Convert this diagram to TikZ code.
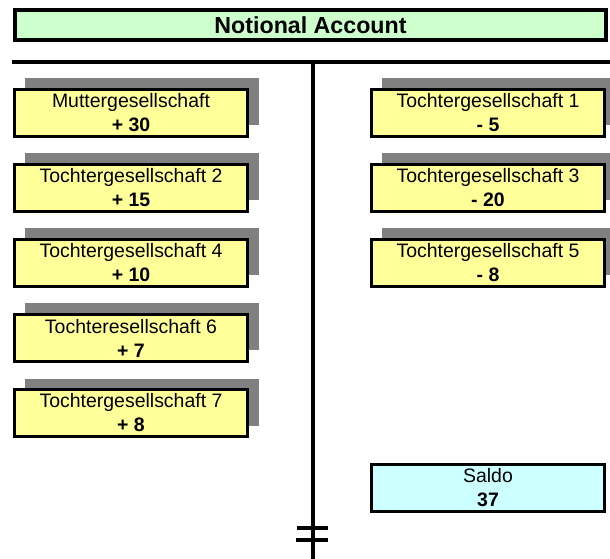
\documentclass[tikz,border=0pt]{standalone}
\usepackage{fontspec}
\setmainfont{Liberation Sans}
\usetikzlibrary{positioning,shadows}

\definecolor{kontogelb}{HTML}{FFFF99}
\definecolor{saldoblau}{HTML}{CCFFFF}
\definecolor{titelgruen}{HTML}{CCFFCC}
\definecolor{schatten}{HTML}{808080}

\begin{document}
\begin{tikzpicture}[x=0.75pt,y=-0.75pt,node distance=21pt,
                kasten/.style={draw,line width=2.4pt,align=center,
                  minimum width=175pt,minimum height=35.25pt,inner sep=0pt,outer sep=0pt,
                  font=\fontsize{14.6}{18}\selectfont},
                konto/.style={kasten,fill=kontogelb,
                  general shadow={fill=schatten,shadow xshift=8.25pt,shadow yshift=8.25pt}},
                saldo/.style={kasten,fill=saldoblau},
                titel/.style={draw,line width=3pt,fill=titelgruen,
                  minimum width=443.25pt,minimum height=22.5pt,inner sep=0pt,
                  font=\fontsize{17.4}{20}\selectfont\bfseries},
                tkonto/.style={line width=2.4pt}]

        \useasboundingbox (0,0) rectangle (610,559);
        \clip (0,0) rectangle (610,559);

        \node[titel] (titel) at (310.5,25) {Notional Account};

        % T-Konto
        \coordinate (links) at (12,62);
        \coordinate (rechts) at (610,62);
        \coordinate (mitte) at (313,62);
        \coordinate (unten) at (313,559);
        \draw[tkonto] (links) -- (rechts);
        \draw[tkonto,line width=3pt] (mitte) -- (unten);

        % Soll
        \node[konto] (mutter) at (131,113) {Muttergesellschaft\\\textbf{+ 30}};
        \node[konto] (t2) [below=of mutter] {Tochtergesellschaft 2\\\textbf{+ 15}};
        \node[konto] (t4) [below=of t2] {Tochtergesellschaft 4\\\textbf{+ 10}};
        \node[konto] (t6) [below=of t4] {Tochteresellschaft 6\\\textbf{+ 7}};
        \node[konto] (t7) [below=of t6] {Tochtergesellschaft 7\\\textbf{+ 8}};

        % Haben
        \node[konto] (t1) at (488,113) {Tochtergesellschaft 1\\\textbf{- 5}};
        \node[konto] (t3) [below=of t1] {Tochtergesellschaft 3\\\textbf{- 20}};
        \node[konto] (t5) [below=of t3] {Tochtergesellschaft 5\\\textbf{- 8}};

        \node[saldo] (saldo) at (488,488) {Saldo\\\textbf{37}};

        % Abschluss
        \coordinate (s1a) at (297,528);
        \coordinate (s1b) at (328,528);
        \coordinate (s2a) at (296,540);
        \coordinate (s2b) at (328,540);
        \draw[tkonto] (s1a) -- (s1b);
        \draw[tkonto] (s2a) -- (s2b);
\end{tikzpicture}
\end{document}
